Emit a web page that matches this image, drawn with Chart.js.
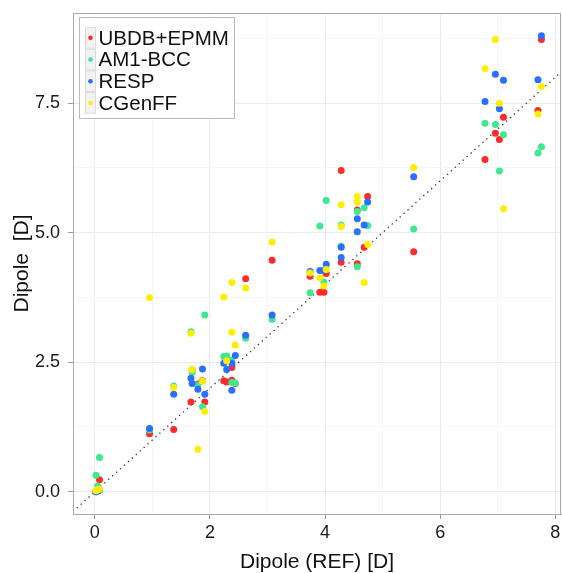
<!DOCTYPE html>
<html>
<head>
<meta charset="utf-8">
<script src="https://cdn.jsdelivr.net/npm/chart.js@4/dist/chart.umd.min.js"></script>
<style>
  html, body { margin: 0; padding: 0; background: #fff; overflow: hidden; }
  #wrap { width: 562px; height: 573px; position: relative; }
  canvas { display: block; }
</style>
</head>
<body>
<div id="wrap"><canvas id="dipole"></canvas></div>
<script>
// reference dipole per molecule (x) and the four methods (y)
const refDipole = [0.02, 0.05, 0.08, 0.95, 1.37, 1.67, 1.69, 1.79, 1.87, 1.91,
  2.24, 2.29, 2.38, 2.38, 2.44, 2.62, 3.08, 3.74, 3.91, 3.98,
  4.02, 4.28, 4.28, 4.56, 4.56, 4.68, 4.74, 5.54, 6.78, 6.96,
  7.03, 7.10, 7.70, 7.76];
const ubdbEpmm = [0.00, 0.02, 0.23, 1.12, 1.20, 1.73, 2.35, 2.08, 2.14, 1.73,
  2.14, 2.12, 2.40, 2.15, 2.09, 4.11, 4.47, 4.16, 3.85, 3.85,
  4.21, 6.20, 4.43, 5.44, 4.40, 4.72, 5.70, 4.63, 6.41, 6.92,
  6.80, 7.23, 7.36, 8.73];
const am1Bcc = [0.32, 0.11, 0.66, 1.19, 2.04, 3.09, 2.30, 2.06, 1.64, 3.41,
  2.61, 2.62, 2.54, 2.11, 2.10, 2.96, 3.33, 3.84, 5.13, 4.05,
  5.62, 5.15, 4.74, 5.41, 4.34, 5.48, 5.14, 5.07, 7.11, 7.09,
  6.19, 6.89, 6.54, 6.66];
const resp = [0.00, 0.02, 0.03, 1.22, 1.88, 2.19, 2.09, 1.98, 2.37, 1.88,
  2.48, 2.36, 2.48, 1.96, 2.63, 3.02, 3.41, 4.25, 4.27, 4.27,
  4.39, 4.72, 4.52, 5.27, 5.02, 5.15, 5.59, 6.08, 7.53, 8.06,
  7.39, 7.94, 7.95, 8.80];
const cgenff = [0.02, 0.05, 0.05, 3.75, 2.01, 3.06, 2.36, 0.82, 2.13, 1.55,
  3.76, 2.53, 4.04, 3.08, 2.83, 3.93, 4.82, 4.22, 4.13, 3.97,
  4.29, 5.54, 5.12, 5.70, 5.59, 4.04, 4.77, 6.26, 8.17, 8.73,
  7.50, 5.46, 7.29, 7.82];

const seriesNames = ['UBDB+EPMM', 'AM1-BCC', 'RESP', 'CGenFF'];
const seriesColors = ['#ff2b2b', '#3ee88c', '#2b6fff', '#ffee00'];
const seriesValues = [ubdbEpmm, am1Bcc, resp, cgenff];

const xMajorTicks = [0, 2, 4, 6, 8];
const xMinorTicks = [1, 3, 5, 7];
const yMajorTicks = [0, 2.5, 5, 7.5];
const yMinorTicks = [1.25, 3.75, 6.25, 8.75];

const FONT = "'Liberation Sans', Arial, Helvetica, sans-serif";

const toPoints = ys => refDipole.map((x, i) => ({ x: x, y: ys[i] }));

const datasets = seriesNames.map((name, i) => ({
  label: name,
  data: toPoints(seriesValues[i]),
  backgroundColor: seriesColors[i],
  borderWidth: 0,
  pointRadius: 3.5,
  pointHoverRadius: 3.5,
  order: 4 - i
}));

// y = x reference line
datasets.push({
  label: 'diag',
  data: [{ x: -1, y: -1 }, { x: 10, y: 10 }],
  showLine: true,
  borderColor: '#333',
  borderWidth: 1.3,
  borderDash: [1.3, 4],
  pointRadius: 0,
  order: 10
});

// no extra room for overhanging tick labels, the panel fills the canvas like ggplot
const noOverhang = scale => {
  scale.paddingLeft = 0;
  scale.paddingRight = 0;
  scale.paddingTop = 0;
  scale.paddingBottom = 0;
};

const insetLegend = {
  id: 'insetLegend',
  afterDraw(chart) {
    const ctx = chart.ctx;
    const area = chart.chartArea;

    // panel outline
    ctx.save();
    ctx.strokeStyle = '#aaa';
    ctx.lineWidth = 1;
    ctx.strokeRect(area.left + 0.5, area.top + 0.5, area.right - area.left - 1, area.bottom - area.top);

    const bx = area.left + 6, by = area.top + 4, bw = 155, bh = 101;
    ctx.fillStyle = '#fff';
    ctx.fillRect(bx, by, bw, bh);
    ctx.strokeStyle = '#bbb';
    ctx.strokeRect(bx + 0.5, by + 0.5, bw, bh);

    const rowH = 21.7;
    ctx.font = '20.5px ' + FONT;
    ctx.textBaseline = 'middle';
    seriesNames.forEach((name, i) => {
      const ry = by + 10 + i * rowH;
      ctx.fillStyle = '#f2f2f2';
      ctx.fillRect(bx + 6, ry, 10.5, rowH);
      ctx.strokeStyle = '#dcdcdc';
      ctx.strokeRect(bx + 6.5, ry + 0.5, 10, rowH - 1);
      ctx.fillStyle = seriesColors[i];
      ctx.beginPath();
      ctx.arc(bx + 11.5, ry + rowH / 2, 2.3, 0, Math.PI * 2);
      ctx.fill();
      ctx.fillStyle = '#111';
      ctx.fillText(name, bx + 19.5, ry + rowH / 2 + 1);
    });
    ctx.restore();
  }
};

new Chart(document.getElementById('dipole'), {
  type: 'scatter',
  data: { datasets: datasets },
  options: {
    responsive: true,
    maintainAspectRatio: false,
    animation: false,
    layout: { autoPadding: false, padding: { top: 13, right: 1, left: 0, bottom: 0 } },
    plugins: {
      legend: { display: false },
      tooltip: { enabled: false }
    },
    scales: {
      x: {
        type: 'linear',
        min: -0.38,
        max: 8.1,
        afterBuildTicks: scale => {
          scale.ticks = xMajorTicks.concat(xMinorTicks).sort((a, b) => a - b).map(v => ({ value: v }));
        },
        afterFit: scale => { scale.height = 59; noOverhang(scale); },
        ticks: {
          autoSkip: false,
          maxRotation: 0,
          padding: 3,
          color: '#1a1a1a',
          font: { family: FONT, size: 18 },
          callback: v => xMajorTicks.includes(v) ? String(v) : ''
        },
        grid: {
          color: c => xMajorTicks.includes(c.tick.value) ? '#ebebeb' : '#f5f5f5',
          tickColor: c => xMajorTicks.includes(c.tick.value) ? '#999' : 'rgba(0,0,0,0)',
          tickLength: 5
        },
        border: { color: '#aaa', width: 1 },
        title: {
          display: true,
          text: 'Dipole (REF) [D]',
          color: '#111',
          font: { family: FONT, size: 21, lineHeight: 1 },
          padding: 0
        }
      },
      y: {
        type: 'linear',
        min: -0.43,
        max: 9.24,
        afterBuildTicks: scale => {
          scale.ticks = yMajorTicks.concat(yMinorTicks).sort((a, b) => a - b).map(v => ({ value: v }));
        },
        afterFit: scale => { scale.width = 73; noOverhang(scale); },
        ticks: {
          autoSkip: false,
          padding: 8,
          color: '#1a1a1a',
          font: { family: FONT, size: 18 },
          callback: v => yMajorTicks.includes(v) ? v.toFixed(1) : ''
        },
        grid: {
          color: c => yMajorTicks.includes(c.tick.value) ? '#ebebeb' : '#f5f5f5',
          tickColor: c => yMajorTicks.includes(c.tick.value) ? '#999' : 'rgba(0,0,0,0)',
          tickLength: 5
        },
        border: { color: '#aaa', width: 1 },
        title: {
          display: true,
          text: 'Dipole  [D]',
          color: '#111',
          font: { family: FONT, size: 21, lineHeight: 1 },
          padding: 12
        }
      }
    }
  },
  plugins: [insetLegend]
});
</script>
</body>
</html>
